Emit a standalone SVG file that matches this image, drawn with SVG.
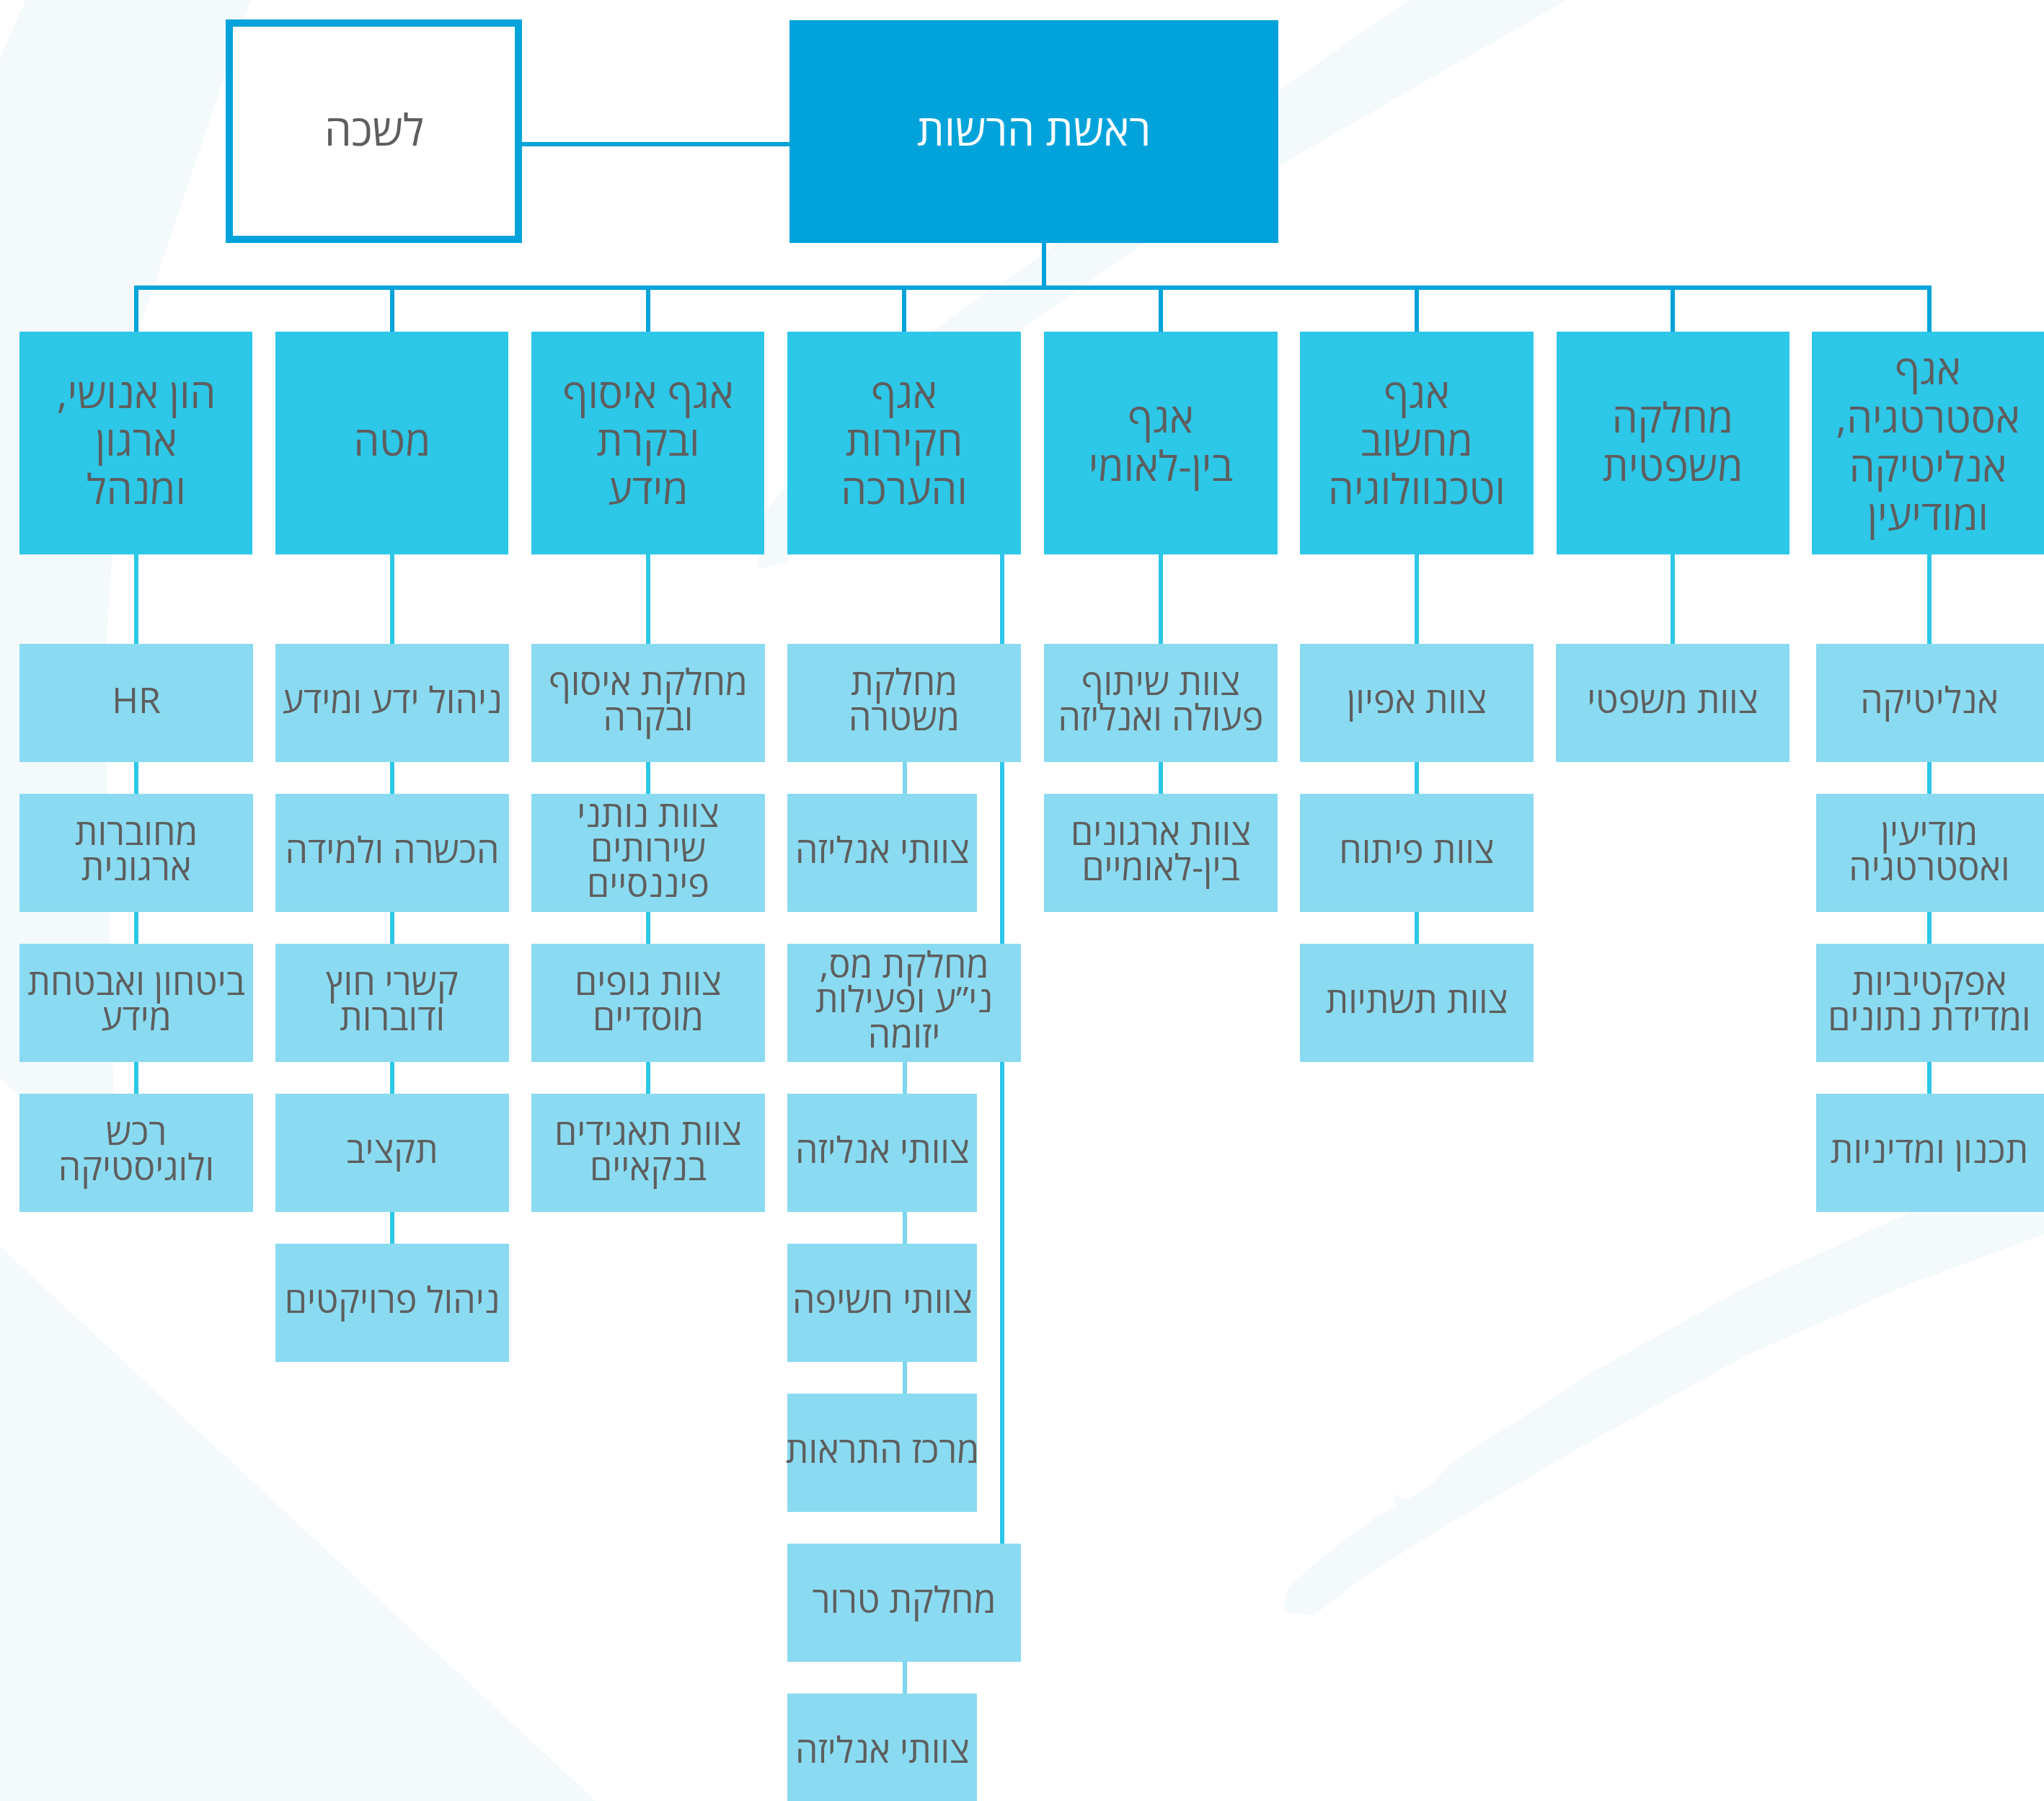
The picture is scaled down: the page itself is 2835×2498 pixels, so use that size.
<svg xmlns="http://www.w3.org/2000/svg" width="2835" height="2498" viewBox="0 0 2835 2498">
  <defs>
    <style>
      .bg { fill: #F4F9FC; }
      .head { fill: #02A3DA; }
      .office { fill: #FFFFFF; stroke: #02A3DA; stroke-width: 10; }
      .l2 { fill: #2DC7E8; }
      .l3 { fill: #8ADBF1; }
      .bus { stroke: #02A3DA; stroke-width: 6; fill: none; }
      .link { stroke: #2DC7E8; stroke-width: 6; fill: none; }
      .sub { stroke: #7CD6EF; stroke-width: 6; fill: none; }
      text { font-family: "Open Sans", "Liberation Sans", "DejaVu Sans", sans-serif; fill: #5E5E5E; text-anchor: middle; direction: rtl; }
      .tw { fill: #FFFFFF; }
      .t1 { font-size: 60px; }
      .t2 { font-size: 57px; }
      .t3 { font-size: 50px; }
    </style>
  </defs>

  <rect width="2835" height="2498" fill="#FFFFFF"/>

  <!-- faint background brush strokes -->
  <g id="backdrop">
    <path class="bg" d="M36,0 L348,0 L300,140 L196,448 L160,700 L147,900 L150,1200 L157,1500 L157,1640 L0,1495 L0,80 Z"/>
    <path class="bg" d="M1954,0 L2173,0 L1588,337 L1412,459 L1250,620 L1148,709 L1090,780 L1050,790 L1062,709 L1150,600 L1293,459 Z"/>
    <path class="bg" d="M0,1729 L826,2498 L0,2498 Z"/>
    <path class="bg" d="M2835,1590 L2655,1679 L2424,1784 L2207,1904 L2011,2031 L1982,2062 L1950,2080 L1932,2072 L1937,2091 L1910,2103 L1845,2151 L1787,2201 L1778,2233 L1794,2238 L1823,2240 L1881,2195 L1990,2125 L2207,1999 L2424,1879 L2641,1784 L2835,1712 Z"/>
  </g>

  <!-- connectors -->
  <g id="connectors">
    <line class="bus" x1="724" y1="200" x2="1095" y2="200"/>
    <line class="bus" x1="1448" y1="337" x2="1448" y2="399"/>
    <line class="bus" x1="186" y1="399" x2="2679" y2="399"/>
    <line class="bus" x1="189" y1="399" x2="189" y2="460"/>
    <line class="bus" x1="544" y1="399" x2="544" y2="460"/>
    <line class="bus" x1="899" y1="399" x2="899" y2="460"/>
    <line class="bus" x1="1254" y1="399" x2="1254" y2="460"/>
    <line class="bus" x1="1610" y1="399" x2="1610" y2="460"/>
    <line class="bus" x1="1965" y1="399" x2="1965" y2="460"/>
    <line class="bus" x1="2320" y1="399" x2="2320" y2="460"/>
    <line class="bus" x1="2676" y1="399" x2="2676" y2="460"/>

    <line class="link" x1="189" y1="769" x2="189" y2="1517"/>
    <line class="link" x1="544" y1="769" x2="544" y2="1725"/>
    <line class="link" x1="899" y1="769" x2="899" y2="1517"/>
    <line class="link" x1="1390" y1="769" x2="1390" y2="2141"/>
    <line class="link" x1="1610" y1="769" x2="1610" y2="1101"/>
    <line class="link" x1="1965" y1="769" x2="1965" y2="1309"/>
    <line class="link" x1="2320" y1="769" x2="2320" y2="893"/>
    <line class="link" x1="2676" y1="769" x2="2676" y2="1517"/>

    <line class="sub" x1="1255" y1="1057" x2="1255" y2="1101"/>
    <line class="sub" x1="1255" y1="1473" x2="1255" y2="1933"/>
    <line class="sub" x1="1255" y1="2305" x2="1255" y2="2349"/>
  </g>

  <!-- top level -->
  <g id="head">
    <rect class="head" x="1095" y="28" width="678" height="309"/>
    <text class="t1 tw" x="1434" y="202">ראשת הרשות</text>
  </g>
  <g id="office">
    <rect class="office" x="318" y="32" width="401" height="300"/>
    <text class="t1" x="519" y="202">לשכה</text>
  </g>

  <!-- divisions -->
  <g id="div-hr">
    <rect class="l2" x="27" y="460" width="323" height="309"/>
    <text class="t2" x="189" y="566">הון אנושי,</text>
    <text class="t2" x="189" y="632">ארגון</text>
    <text class="t2" x="189" y="699">ומנהל</text>
  </g>
  <g id="div-staff">
    <rect class="l2" x="382" y="460" width="323" height="309"/>
    <text class="t2" x="544" y="632">מטה</text>
  </g>
  <g id="div-collection">
    <rect class="l2" x="737" y="460" width="323" height="309"/>
    <text class="t2" x="899" y="566">אגף איסוף</text>
    <text class="t2" x="899" y="632">ובקרת</text>
    <text class="t2" x="899" y="699">מידע</text>
  </g>
  <g id="div-investigations">
    <rect class="l2" x="1092" y="460" width="324" height="309"/>
    <text class="t2" x="1254" y="566">אגף</text>
    <text class="t2" x="1254" y="632">חקירות</text>
    <text class="t2" x="1254" y="699">והערכה</text>
  </g>
  <g id="div-international">
    <rect class="l2" x="1448" y="460" width="324" height="309"/>
    <text class="t2" x="1610" y="600">אגף</text>
    <text class="t2" x="1610" y="667">בין-לאומי</text>
  </g>
  <g id="div-it">
    <rect class="l2" x="1803" y="460" width="324" height="309"/>
    <text class="t2" x="1965" y="566">אגף</text>
    <text class="t2" x="1965" y="632">מחשוב</text>
    <text class="t2" x="1965" y="699">וטכנוולוגיה</text>
  </g>
  <g id="div-legal">
    <rect class="l2" x="2159" y="460" width="323" height="309"/>
    <text class="t2" x="2320" y="600">מחלקה</text>
    <text class="t2" x="2320" y="667">משפטית</text>
  </g>
  <g id="div-strategy">
    <rect class="l2" x="2513" y="460" width="323" height="309"/>
    <text class="t2" x="2674" y="533">אגף</text>
    <text class="t2" x="2674" y="600">אסטרטגיה,</text>
    <text class="t2" x="2674" y="668">אנליטיקה</text>
    <text class="t2" x="2674" y="735">ומודיעין</text>
  </g>

  <!-- units: human capital -->
  <g id="u-hr">
    <rect class="l3" x="27" y="893" width="324" height="164"/>
    <text class="t3" x="189" y="989">HR</text>
  </g>
  <g id="u-connectivity">
    <rect class="l3" x="27" y="1101" width="324" height="164"/>
    <text class="t3" x="189" y="1172">מחוברות</text>
    <text class="t3" x="189" y="1221">ארגונית</text>
  </g>
  <g id="u-security">
    <rect class="l3" x="27" y="1309" width="324" height="164"/>
    <text class="t3" x="189" y="1380">ביטחון ואבטחת</text>
    <text class="t3" x="189" y="1429">מידע</text>
  </g>
  <g id="u-procurement">
    <rect class="l3" x="27" y="1517" width="324" height="164"/>
    <text class="t3" x="189" y="1588">רכש</text>
    <text class="t3" x="189" y="1637">ולוגיסטיקה</text>
  </g>

  <!-- units: staff -->
  <g id="u-knowledge">
    <rect class="l3" x="382" y="893" width="324" height="164"/>
    <text class="t3" x="544" y="989">ניהול ידע ומידע</text>
  </g>
  <g id="u-training">
    <rect class="l3" x="382" y="1101" width="324" height="164"/>
    <text class="t3" x="544" y="1197">הכשרה ולמידה</text>
  </g>
  <g id="u-foreign">
    <rect class="l3" x="382" y="1309" width="324" height="164"/>
    <text class="t3" x="544" y="1380">קשרי חוץ</text>
    <text class="t3" x="544" y="1429">ודוברות</text>
  </g>
  <g id="u-budget">
    <rect class="l3" x="382" y="1517" width="324" height="164"/>
    <text class="t3" x="544" y="1613">תקציב</text>
  </g>
  <g id="u-projects">
    <rect class="l3" x="382" y="1725" width="324" height="164"/>
    <text class="t3" x="544" y="1821">ניהול פרויקטים</text>
  </g>

  <!-- units: collection -->
  <g id="u-collection">
    <rect class="l3" x="737" y="893" width="324" height="164"/>
    <text class="t3" x="899" y="964">מחלקת איסוף</text>
    <text class="t3" x="899" y="1013">ובקרה</text>
  </g>
  <g id="u-financial">
    <rect class="l3" x="737" y="1101" width="324" height="164"/>
    <text class="t3" x="899" y="1147">צוות נותני</text>
    <text class="t3" x="899" y="1195">שירותים</text>
    <text class="t3" x="899" y="1244">פיננסיים</text>
  </g>
  <g id="u-institutional">
    <rect class="l3" x="737" y="1309" width="324" height="164"/>
    <text class="t3" x="899" y="1380">צוות גופים</text>
    <text class="t3" x="899" y="1429">מוסדיים</text>
  </g>
  <g id="u-banking">
    <rect class="l3" x="737" y="1517" width="324" height="164"/>
    <text class="t3" x="899" y="1588">צוות תאגידים</text>
    <text class="t3" x="899" y="1637">בנקאיים</text>
  </g>

  <!-- units: investigations -->
  <g id="u-police">
    <rect class="l3" x="1092" y="893" width="324" height="164"/>
    <text class="t3" x="1254" y="964">מחלקת</text>
    <text class="t3" x="1254" y="1013">משטרה</text>
  </g>
  <g id="u-police-analysis">
    <rect class="l3" x="1092" y="1101" width="263" height="164"/>
    <text class="t3" x="1224" y="1197">צוותי אנליזה</text>
  </g>
  <g id="u-tax">
    <rect class="l3" x="1092" y="1309" width="324" height="164"/>
    <text class="t3" x="1254" y="1356">מחלקת מס,</text>
    <text class="t3" x="1254" y="1404">ני”ע ופעילות</text>
    <text class="t3" x="1254" y="1453">יזומה</text>
  </g>
  <g id="u-tax-analysis">
    <rect class="l3" x="1092" y="1517" width="263" height="164"/>
    <text class="t3" x="1224" y="1613">צוותי אנליזה</text>
  </g>
  <g id="u-exposure">
    <rect class="l3" x="1092" y="1725" width="263" height="164"/>
    <text class="t3" x="1224" y="1821">צוותי חשיפה</text>
  </g>
  <g id="u-alerts">
    <rect class="l3" x="1092" y="1933" width="263" height="164"/>
    <text class="t3" x="1224" y="2029">מרכז התראות</text>
  </g>
  <g id="u-terror">
    <rect class="l3" x="1092" y="2141" width="324" height="164"/>
    <text class="t3" x="1254" y="2237">מחלקת טרור</text>
  </g>
  <g id="u-terror-analysis">
    <rect class="l3" x="1092" y="2349" width="263" height="164"/>
    <text class="t3" x="1224" y="2445">צוותי אנליזה</text>
  </g>

  <!-- units: international -->
  <g id="u-cooperation">
    <rect class="l3" x="1448" y="893" width="324" height="164"/>
    <text class="t3" x="1610" y="964">צוות שיתוף</text>
    <text class="t3" x="1610" y="1013">פעולה ואנליזה</text>
  </g>
  <g id="u-organizations">
    <rect class="l3" x="1448" y="1101" width="324" height="164"/>
    <text class="t3" x="1610" y="1172">צוות ארגונים</text>
    <text class="t3" x="1610" y="1221">בין-לאומיים</text>
  </g>

  <!-- units: IT -->
  <g id="u-specification">
    <rect class="l3" x="1803" y="893" width="324" height="164"/>
    <text class="t3" x="1965" y="989">צוות אפיון</text>
  </g>
  <g id="u-development">
    <rect class="l3" x="1803" y="1101" width="324" height="164"/>
    <text class="t3" x="1965" y="1197">צוות פיתוח</text>
  </g>
  <g id="u-infrastructure">
    <rect class="l3" x="1803" y="1309" width="324" height="164"/>
    <text class="t3" x="1965" y="1405">צוות תשתיות</text>
  </g>

  <!-- units: legal -->
  <g id="u-legal">
    <rect class="l3" x="2158" y="893" width="324" height="164"/>
    <text class="t3" x="2320" y="989">צוות משפטי</text>
  </g>

  <!-- units: strategy -->
  <g id="u-analytics">
    <rect class="l3" x="2519" y="893" width="316" height="164"/>
    <text class="t3" x="2676" y="989">אנליטיקה</text>
  </g>
  <g id="u-intelligence">
    <rect class="l3" x="2519" y="1101" width="316" height="164"/>
    <text class="t3" x="2676" y="1172">מודיעין</text>
    <text class="t3" x="2676" y="1221">ואסטרטגיה</text>
  </g>
  <g id="u-effectiveness">
    <rect class="l3" x="2519" y="1309" width="316" height="164"/>
    <text class="t3" x="2676" y="1380">אפקטיביות</text>
    <text class="t3" x="2676" y="1429">ומדידת נתונים</text>
  </g>
  <g id="u-planning">
    <rect class="l3" x="2519" y="1517" width="316" height="164"/>
    <text class="t3" x="2676" y="1613">תכנון ומדיניות</text>
  </g>
</svg>
